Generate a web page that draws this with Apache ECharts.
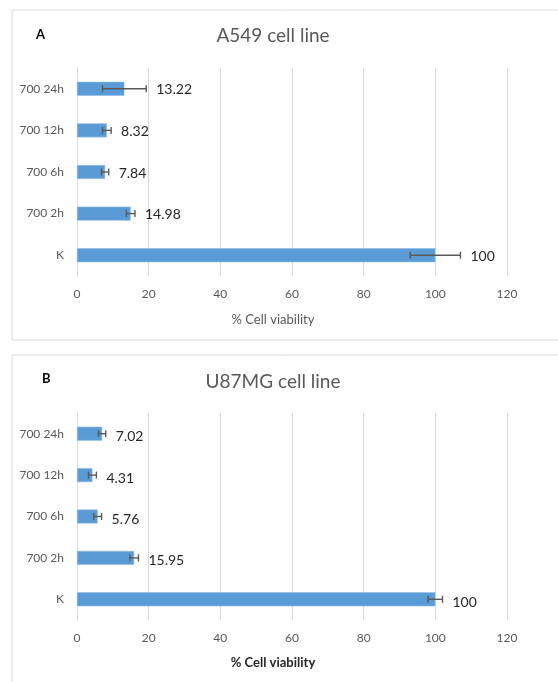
<!DOCTYPE html>
<html>
<head>
<meta charset="utf-8">
<script src="https://cdn.jsdelivr.net/npm/echarts@6/dist/echarts.min.js"></script>
<style>
  html, body { margin: 0; padding: 0; background: #fff; }
  #chart { width: 558px; height: 682px; }
</style>
</head>
<body>
<div id="chart"></div>
<script>
// Treatment groups (bottom to top)
const categories = ['K', '700 2h', '700 6h', '700 12h', '700 24h'];

// A549 cell viability (%) and error-bar half widths
const a549Values = [100, 14.98, 7.84, 8.32, 13.22];
const a549Errors = [7, 1.2, 1.0, 1.2, 6.1];

// U87MG cell viability (%) and error-bar half widths
const u87Values = [100, 15.95, 5.76, 4.31, 7.02];
const u87Errors = [2, 1.2, 1.1, 1.1, 1.0];

const xTicks = [0, 20, 40, 60, 80, 100, 120];

const FONT = 'Lato, "Open Sans", sans-serif';
const BAR = '#5b9bd5';
const GRID = '#d9d9d9';

function errData(values, errors) {
  return values.map((v, i) => [i, v, errors[i]]);
}

function errRender(labelDy) {
  return function (params, api) {
    const cat = api.value(0);
    const v = api.value(1);
    const e = api.value(2);
    const lo = api.coord([v - e, cat]);
    const hi = api.coord([v + e, cat]);
    const capH = 3.5;
    const style = { stroke: '#595959', lineWidth: 1.4 };
    return {
      type: 'group',
      children: [
        { type: 'line', shape: { x1: lo[0], y1: lo[1], x2: hi[0], y2: hi[1] }, style },
        { type: 'line', shape: { x1: lo[0], y1: lo[1] - capH, x2: lo[0], y2: lo[1] + capH }, style },
        { type: 'line', shape: { x1: hi[0], y1: hi[1] - capH, x2: hi[0], y2: hi[1] + capH }, style },
        {
          type: 'text',
          style: {
            x: hi[0] + 10, y: hi[1] + labelDy,
            text: String(v),
            fill: '#262626',
            font: '14px ' + FONT,
            verticalAlign: 'middle',
            align: 'left'
          }
        }
      ]
    };
  };
}

function xAxisFor(gridIndex, nameGap, nameStyle) {
  return {
    type: 'value', gridIndex,
    min: 0, max: 120, interval: 20,
    axisLine: { show: false },
    axisTick: { show: false },
    splitLine: { show: true, lineStyle: { color: GRID, width: 1 } },
    axisLabel: {
      color: '#595959', fontFamily: FONT, fontSize: 12, margin: 12,
      formatter: v => (xTicks.indexOf(v) >= 0 ? String(v) : '')
    },
    name: '% Cell viability',
    nameLocation: 'middle',
    nameGap: nameGap,
    nameTextStyle: Object.assign({ padding: [0, 38, 0, 0] }, nameStyle)
  };
}

function yAxisFor(gridIndex) {
  return {
    type: 'category', gridIndex,
    data: categories,
    axisLine: { show: true, lineStyle: { color: GRID, width: 1 } },
    axisTick: { show: false },
    axisLabel: { color: '#595959', fontFamily: FONT, fontSize: 12, margin: 13 }
  };
}

const chart = echarts.init(document.getElementById('chart'), null, { renderer: 'canvas' });

chart.setOption({
  animation: false,
  backgroundColor: '#ffffff',
  graphic: [
    { type: 'rect', shape: { x: 12, y: 10, width: 560, height: 330 },
      style: { fill: 'none', stroke: '#d9d9d9', lineWidth: 1 }, z: -1 },
    { type: 'rect', shape: { x: 12, y: 355, width: 560, height: 340 },
      style: { fill: 'none', stroke: '#d9d9d9', lineWidth: 1 }, z: -1 },
    { type: 'text', left: 36, top: 28,
      style: { text: 'A', fill: '#000', font: 'bold 13px ' + FONT } },
    { type: 'text', left: 42, top: 372,
      style: { text: 'B', fill: '#000', font: 'bold 13px ' + FONT } },
    { type: 'text', x: 273, y: 36,
      style: { text: 'A549 cell line', fill: '#595959', font: '19px ' + FONT,
               align: 'center', verticalAlign: 'middle' } },
    { type: 'text', x: 273, y: 382,
      style: { text: 'U87MG cell line', fill: '#595959', font: '19px ' + FONT,
               align: 'center', verticalAlign: 'middle' } }
  ],
  grid: [
    { left: 77, width: 430, top: 68, height: 208 },
    { left: 77, width: 430, top: 413, height: 207 }
  ],
  xAxis: [
    xAxisFor(0, 37, { color: '#595959', fontFamily: FONT, fontSize: 13 }),
    xAxisFor(1, 36, { color: '#262626', fontFamily: FONT, fontSize: 13, fontWeight: 'bold' })
  ],
  yAxis: [yAxisFor(0), yAxisFor(1)],
  series: [
    {
      type: 'bar', xAxisIndex: 0, yAxisIndex: 0,
      data: a549Values, barWidth: 14,
      itemStyle: { color: BAR, borderColor: '#8fbbe3', borderWidth: 0.6 }
    },
    {
      type: 'custom', xAxisIndex: 0, yAxisIndex: 0,
      data: errData(a549Values, a549Errors),
      encode: { x: 1, y: 0 },
      renderItem: errRender(1), z: 5
    },
    {
      type: 'bar', xAxisIndex: 1, yAxisIndex: 1,
      data: u87Values, barWidth: 14,
      itemStyle: { color: BAR, borderColor: '#8fbbe3', borderWidth: 0.6 }
    },
    {
      type: 'custom', xAxisIndex: 1, yAxisIndex: 1,
      data: errData(u87Values, u87Errors),
      encode: { x: 1, y: 0 },
      renderItem: errRender(3), z: 5
    }
  ]
});
</script>
</body>
</html>
